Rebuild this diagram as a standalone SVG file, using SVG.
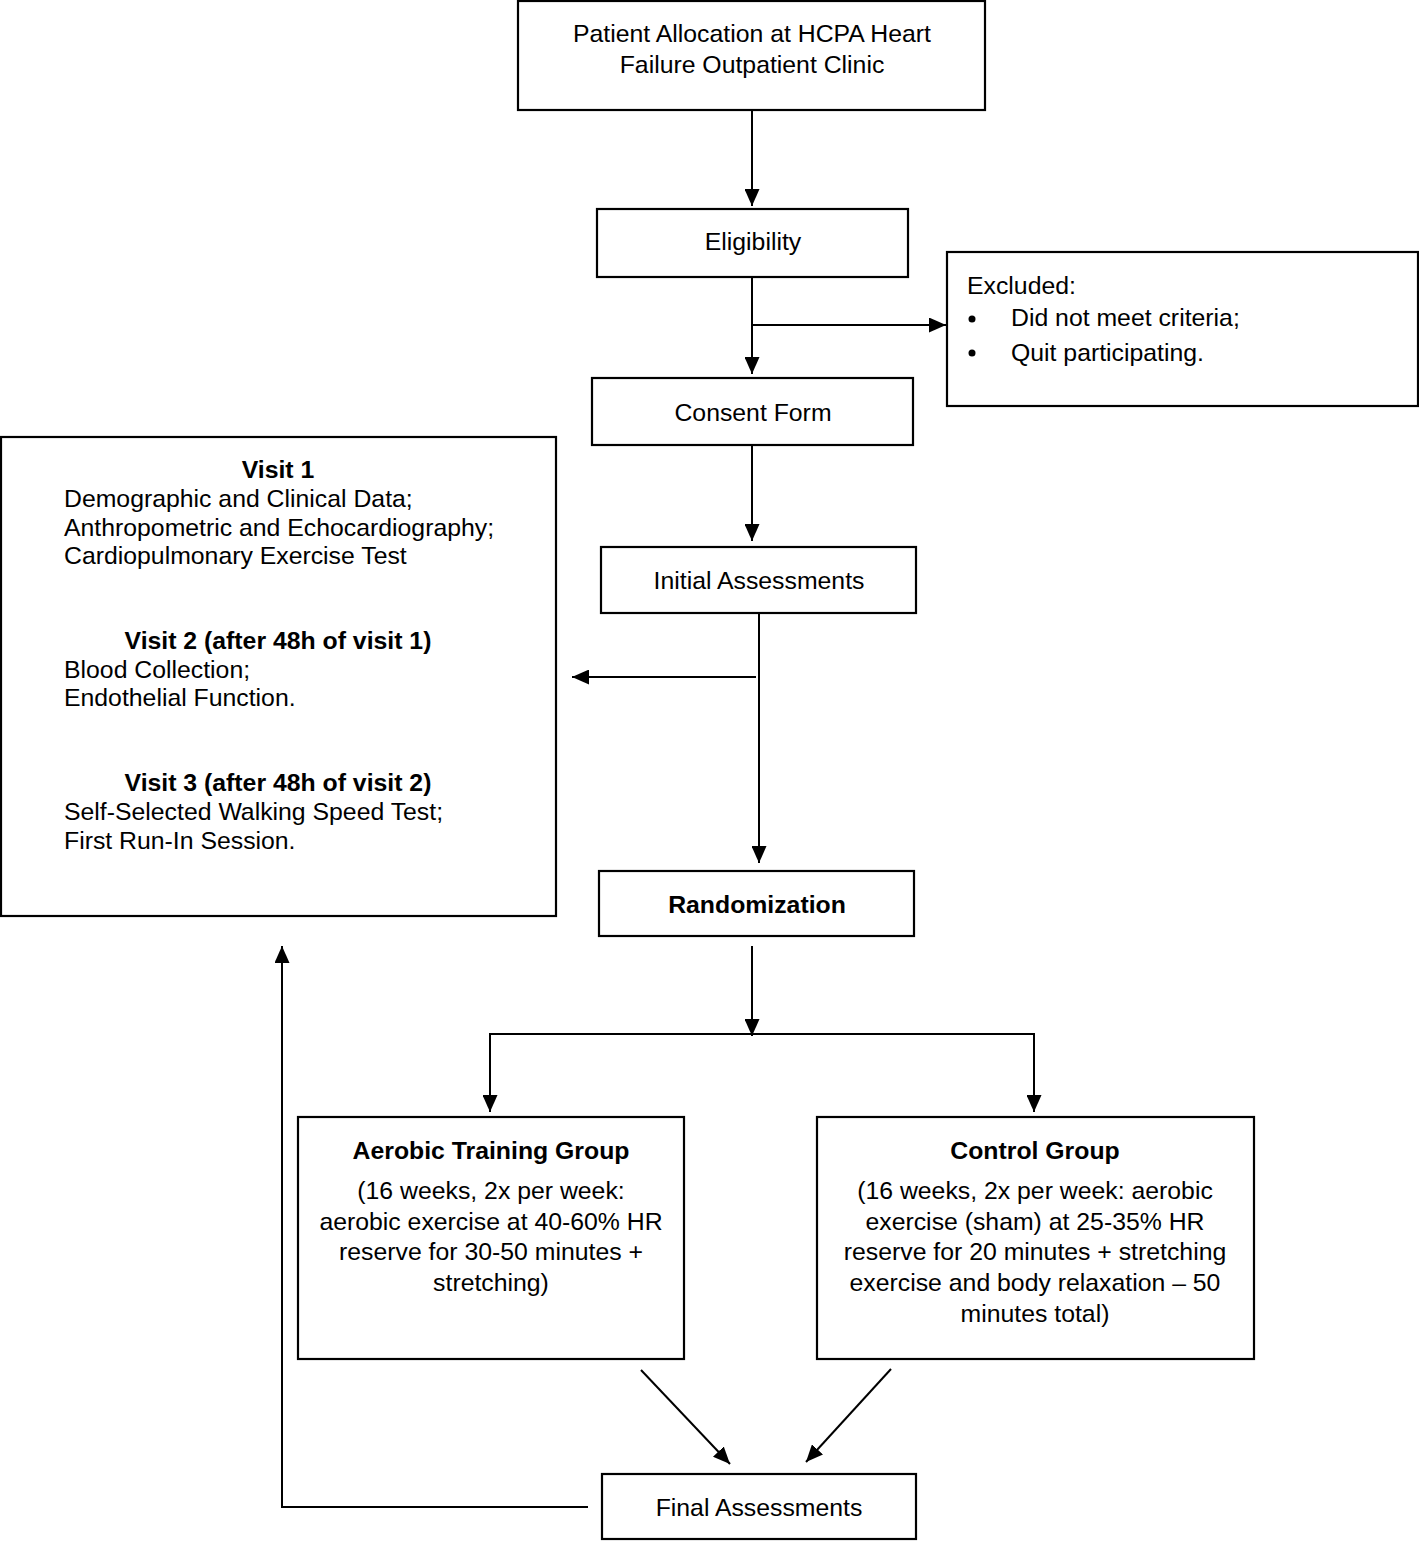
<svg xmlns="http://www.w3.org/2000/svg" width="1419" height="1541" viewBox="0 0 1419 1541">
<defs>
<marker id="ah" markerWidth="17" markerHeight="15" refX="17" refY="7.5" orient="auto" markerUnits="userSpaceOnUse">
<path d="M0,0 L17,7.5 L0,15 Z" fill="#000"/>
</marker>
<style>
.box{fill:#fff;stroke:#000;stroke-width:2.2}
.c{fill:none;stroke:#000;stroke-width:2}
text{font-family:"Liberation Sans",Arial,sans-serif;font-size:24.8px;fill:#000}
.m{text-anchor:middle}
.b{font-weight:bold}
</style>
</defs>
<rect width="1419" height="1541" fill="#fff"/>
<g id="connectors">
<line class="c" x1="752" y1="110" x2="752" y2="206" marker-end="url(#ah)"/>
<line class="c" x1="752" y1="277" x2="752" y2="374" marker-end="url(#ah)"/>
<line class="c" x1="752" y1="325" x2="946" y2="325" marker-end="url(#ah)"/>
<line class="c" x1="752" y1="445" x2="752" y2="541" marker-end="url(#ah)"/>
<line class="c" x1="759" y1="613" x2="759" y2="863" marker-end="url(#ah)"/>
<line class="c" x1="756" y1="677" x2="572" y2="677" marker-end="url(#ah)"/>
<line class="c" x1="752" y1="946" x2="752" y2="1036" marker-end="url(#ah)"/>
<polyline class="c" points="490,1112 490,1034 1034,1034 1034,1112"/>
<line class="c" x1="490" y1="1034" x2="490" y2="1112" marker-end="url(#ah)"/>
<line class="c" x1="1034" y1="1034" x2="1034" y2="1112" marker-end="url(#ah)"/>
<line class="c" x1="641" y1="1370" x2="730" y2="1464" marker-end="url(#ah)"/>
<line class="c" x1="891" y1="1369" x2="806" y2="1462" marker-end="url(#ah)"/>
<polyline class="c" points="588,1507 282,1507 282,946" marker-end="url(#ah)"/>
</g>
<g id="allocation">
<rect class="box" x="518" y="1" width="467" height="109"/>
<text class="m" x="752" y="42">Patient Allocation at HCPA Heart</text>
<text class="m" x="752" y="73">Failure Outpatient Clinic</text>
</g>
<g id="eligibility">
<rect class="box" x="597" y="209" width="311" height="68"/>
<text class="m" x="753" y="250">Eligibility</text>
</g>
<g id="excluded">
<rect class="box" x="947" y="252" width="471" height="154"/>
<text x="967" y="294">Excluded:</text>
<circle cx="972" cy="319" r="3.5" fill="#000"/>
<text x="1011" y="326">Did not meet criteria;</text>
<circle cx="972" cy="353" r="3.5" fill="#000"/>
<text x="1011" y="361">Quit participating.</text>
</g>
<g id="consent">
<rect class="box" x="592" y="378" width="321" height="67"/>
<text class="m" x="753" y="421">Consent Form</text>
</g>
<g id="initial">
<rect class="box" x="601" y="547" width="315" height="66"/>
<text class="m" x="759" y="589">Initial Assessments</text>
</g>
<g id="visits">
<rect class="box" x="1" y="437" width="555" height="479"/>
<text class="m b" x="278" y="478">Visit 1</text>
<text x="64" y="507">Demographic and Clinical Data;</text>
<text x="64" y="536">Anthropometric and Echocardiography;</text>
<text x="64" y="564">Cardiopulmonary Exercise Test</text>
<text class="m b" x="278" y="649">Visit 2 (after 48h of visit 1)</text>
<text x="64" y="678">Blood Collection;</text>
<text x="64" y="706">Endothelial Function.</text>
<text class="m b" x="278" y="791">Visit 3 (after 48h of visit 2)</text>
<text x="64" y="820">Self-Selected Walking Speed Test;</text>
<text x="64" y="849">First Run-In Session.</text>
</g>
<g id="randomization">
<rect class="box" x="599" y="871" width="315" height="65"/>
<text class="m b" x="757" y="913">Randomization</text>
</g>
<g id="aerobic">
<rect class="box" x="298" y="1117" width="386" height="242"/>
<text class="m b" x="491" y="1159">Aerobic Training Group</text>
<text class="m" x="491" y="1199">(16 weeks, 2x per week:</text>
<text class="m" x="491" y="1230">aerobic exercise at 40-60% HR</text>
<text class="m" x="491" y="1260">reserve for 30-50 minutes +</text>
<text class="m" x="491" y="1291">stretching)</text>
</g>
<g id="control">
<rect class="box" x="817" y="1117" width="437" height="242"/>
<text class="m b" x="1035" y="1159">Control Group</text>
<text class="m" x="1035" y="1199">(16 weeks, 2x per week: aerobic</text>
<text class="m" x="1035" y="1230">exercise (sham) at 25-35% HR</text>
<text class="m" x="1035" y="1260">reserve for 20 minutes + stretching</text>
<text class="m" x="1035" y="1291">exercise and body relaxation – 50</text>
<text class="m" x="1035" y="1322">minutes total)</text>
</g>
<g id="final">
<rect class="box" x="602" y="1474" width="314" height="65"/>
<text class="m" x="759" y="1516">Final Assessments</text>
</g>
</svg>
